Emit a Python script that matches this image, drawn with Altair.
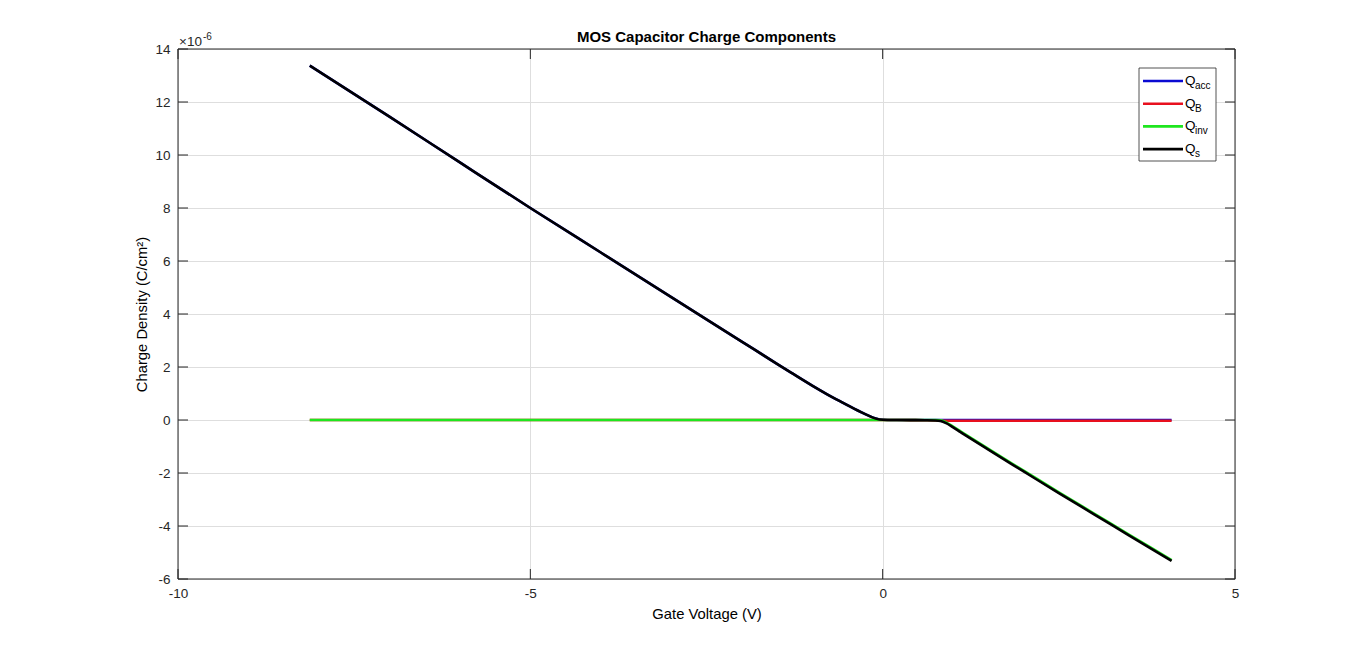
import altair as alt
import pandas as pd

# ---------------- data (values in units of 1e-6 C/cm^2) ----------------
vg = [-8.13, -7.0, -6.0, -5.0, -4.0, -3.0, -2.0, -1.5, -1.3, -1.0, -0.8, -0.6,
      -0.4, -0.3, -0.2, -0.1, 0.0, 0.2, 0.4, 0.6, 0.75, 0.82, 0.9, 1.0, 1.1,
      1.2, 1.5, 2.0, 2.5, 3.0, 3.5, 4.1]
q_s = [13.37, 11.45, 9.72, 8.00, 6.32, 4.64, 2.96, 2.12, 1.79, 1.30, 0.99, 0.70,
       0.42, 0.29, 0.165, 0.06, 0.01, 0.0, -0.005, -0.01, -0.02, -0.04, -0.12,
       -0.28, -0.45, -0.62, -1.12, -1.94, -2.76, -3.56, -4.36, -5.32]
q_acc = [13.37, 11.45, 9.72, 8.00, 6.32, 4.64, 2.96, 2.12, 1.79, 1.30, 0.99, 0.70,
         0.42, 0.29, 0.165, 0.06, 0.01, 0.0, 0.0, 0.0, 0.0, 0.0, 0.0, 0.0, 0.0,
         0.0, 0.0, 0.0, 0.0, 0.0, 0.0, 0.0]
q_b = [0.0, 0.0, 0.0, 0.0, 0.0, 0.0, 0.0, 0.0, 0.0, 0.0, 0.0, 0.0,
       0.0, 0.0, 0.0, 0.0, 0.0, 0.0, -0.005, -0.01, -0.02, -0.03, -0.03,
       -0.03, -0.03, -0.03, -0.03, -0.03, -0.03, -0.03, -0.03, -0.03]
q_inv = [0.0, 0.0, 0.0, 0.0, 0.0, 0.0, 0.0, 0.0, 0.0, 0.0, 0.0, 0.0,
         0.0, 0.0, 0.0, 0.0, 0.0, 0.0, 0.0, 0.0, 0.0, -0.01, -0.09,
         -0.25, -0.42, -0.59, -1.09, -1.91, -2.73, -3.53, -4.33, -5.29]

x_ticks = [-10, -5, 0, 5]
y_ticks = [-6, -4, -2, 0, 2, 4, 6, 8, 10, 12, 14]

series = [("Qacc", "acc", "#0a0ad2"),
          ("QB", "B", "#e8101e"),
          ("Qinv", "inv", "#1ee61e"),
          ("Qs", "s", "#000000")]

df = pd.DataFrame({"Vg": vg, "Qacc": q_acc, "QB": q_b, "Qinv": q_inv, "Qs": q_s})
xt = pd.DataFrame({"v": x_ticks})
yt = pd.DataFrame({"v": y_ticks})
one = pd.DataFrame({"k": [0]})

W, H = 1057, 530
FONT = "Liberation Sans"
AX = "#262626"

xscale = alt.Scale(domain=[-10, 5], nice=False, zero=False)
yscale = alt.Scale(domain=[-6, 14], nice=False, zero=False)

common = dict(grid=True, ticks=False, domain=False, labelFlush=False,
              labelFont=FONT, titleFont=FONT, labelFontSize=13.5, titleFontSize=14.8,
              labelColor=AX, titleColor="black", titleFontWeight="normal",
              gridColor="#dedede", gridWidth=1, labelExpr="'' + datum.value")
xaxis = alt.Axis(values=x_ticks, title="Gate Voltage (V)", labelPadding=7,
                 titlePadding=7, **common)
yaxis = alt.Axis(values=y_ticks, title="Charge Density (C/cm²)", labelPadding=8,
                 titlePadding=5, **common)

layers = []
for name, sub, col in series:
    layers.append(alt.Chart(df).mark_line(color=col, strokeWidth=2.6, interpolate="monotone").encode(
        x=alt.X("Vg:Q", scale=xscale, axis=xaxis),
        y=alt.Y(f"{name}:Q", scale=yscale, axis=yaxis)))

# plot frame
layers.append(alt.Chart(one).mark_rect(fill="white", fillOpacity=0, stroke=AX, strokeWidth=1).encode(
    x=alt.value(0), x2=alt.value(W), y=alt.value(0), y2=alt.value(H)))

# inward tick marks on all four sides
TL = 10
layers.append(alt.Chart(yt).mark_rule(color=AX, strokeWidth=1).encode(
    y=alt.Y("v:Q", scale=yscale, axis=yaxis), x=alt.value(0), x2=alt.value(TL)))
layers.append(alt.Chart(yt).mark_rule(color=AX, strokeWidth=1).encode(
    y=alt.Y("v:Q", scale=yscale, axis=yaxis), x=alt.value(W - TL), x2=alt.value(W)))
layers.append(alt.Chart(xt).mark_rule(color=AX, strokeWidth=1).encode(
    x=alt.X("v:Q", scale=xscale, axis=xaxis), y=alt.value(H - TL), y2=alt.value(H)))
layers.append(alt.Chart(xt).mark_rule(color=AX, strokeWidth=1).encode(
    x=alt.X("v:Q", scale=xscale, axis=xaxis), y=alt.value(0), y2=alt.value(TL)))

# title
layers.append(alt.Chart(one).mark_text(align="center", baseline="middle", fontSize=15,
                                       fontWeight="bold", font=FONT, color="black").encode(
    x=alt.value(W / 2), y=alt.value(-12), text=alt.value("MOS Capacitor Charge Components")))

# exponent label
layers.append(alt.Chart(one).mark_text(align="left", baseline="alphabetic", fontSize=13.5,
                                       font=FONT, color=AX).encode(
    x=alt.value(1), y=alt.value(-3), text=alt.value("×10")))
layers.append(alt.Chart(one).mark_text(align="left", baseline="alphabetic", fontSize=10,
                                       font=FONT, color=AX).encode(
    x=alt.value(25), y=alt.value(-9), text=alt.value("-6")))

# legend
LX0, LX1, LY0, LY1 = 961, 1038, 19, 112
layers.append(alt.Chart(one).mark_rect(fill="white", stroke=AX, strokeWidth=0.8).encode(
    x=alt.value(LX0), x2=alt.value(LX1), y=alt.value(LY0), y2=alt.value(LY1)))
for i, (name, sub, col) in enumerate(series):
    yy = 32 + i * 22.7
    layers.append(alt.Chart(one).mark_rule(color=col, strokeWidth=2.6).encode(
        x=alt.value(965), x2=alt.value(1005), y=alt.value(yy)))
    layers.append(alt.Chart(one).mark_text(align="left", baseline="middle", fontSize=13.5,
                                           font=FONT, color="black").encode(
        x=alt.value(1007), y=alt.value(yy), text=alt.value("Q")))
    layers.append(alt.Chart(one).mark_text(align="left", baseline="alphabetic", fontSize=10,
                                           font=FONT, color="black").encode(
        x=alt.value(1017), y=alt.value(yy + 8), text=alt.value(sub)))

chart = alt.layer(*layers).properties(
    width=W, height=H,
    autosize=alt.AutoSizeParams(type="none"),
    padding={"left": 170, "top": 41, "right": 100, "bottom": 60},
).configure_view(
    strokeOpacity=0
).configure(background="white")

chart.save("out.html", embed_options={"renderer": "svg", "actions": False})
